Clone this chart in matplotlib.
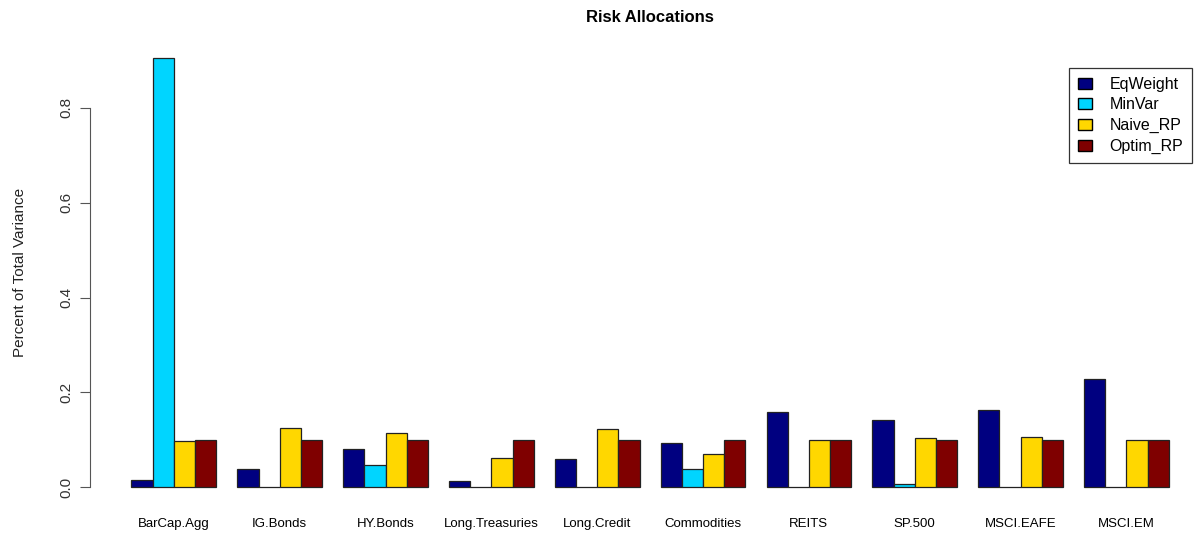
import matplotlib.pyplot as plt
import numpy as np
from matplotlib.patches import Patch

plt.rcParams['font.family'] = ['Liberation Sans', 'DejaVu Sans']

assets = ['BarCap.Agg', 'IG.Bonds', 'HY.Bonds', 'Long.Treasuries', 'Long.Credit',
          'Commodities', 'REITS', 'SP.500', 'MSCI.EAFE', 'MSCI.EM']
eq_weight = [0.016, 0.038, 0.081, 0.013, 0.059, 0.093, 0.159, 0.141, 0.164, 0.228]
min_var = [0.905, 0.0, 0.047, 0.0, 0.0, 0.038, 0.0, 0.008, 0.0, 0.0]
naive_rp = [0.097, 0.124, 0.114, 0.061, 0.123, 0.070, 0.100, 0.104, 0.106, 0.100]
optim_rp = [0.100, 0.100, 0.100, 0.100, 0.100, 0.100, 0.100, 0.100, 0.100, 0.100]

series = {'EqWeight': eq_weight, 'MinVar': min_var,
          'Naive_RP': naive_rp, 'Optim_RP': optim_rp}
colors = ['#000080', '#00D5FF', '#FFD700', '#7F0000']

fig = plt.figure(figsize=(12.01, 5.38), dpi=100)
W, H = 1201, 538
ax = fig.add_axes([90 / W, 1 - 504.5 / H, (W - 90) / W, (504.5 - 40.8) / H])

# R-style beside barplot: each group of 4 unit-wide bars, one unit gap before it
n = len(assets)
group_start = np.arange(n) * 5 + 1
for i, (name, vals) in enumerate(series.items()):
    ax.bar(group_start + i, vals, width=1, align='edge', color=colors[i],
           edgecolor='#222222', linewidth=0.9)

ax.set_xlim(-0.96, -0.96 + (W - 90) / 21.17)
ax.set_ylim(-0.0362, 0.941)

for s in ['top', 'right', 'bottom']:
    ax.spines[s].set_visible(False)
ax.spines['left'].set_bounds(0, 0.8)
ax.spines['left'].set_color('#555555')

ax.set_yticks([0, 0.2, 0.4, 0.6, 0.8])
ax.set_yticklabels(['0.0', '0.2', '0.4', '0.6', '0.8'], rotation=90, va='center',
                   fontsize=11, color='#333333')
ax.tick_params(axis='y', length=7, color='#555555', pad=5)

ax.set_xticks(group_start + 2)
ax.set_xticklabels(assets, fontsize=9.5)
ax.tick_params(axis='x', length=0, pad=10)

ax.set_ylabel('Percent of Total Variance', fontsize=11, color='#222222', labelpad=23)

fig.text(650 / W, 1 - 17 / H, 'Risk Allocations', ha='center', va='center',
         fontsize=12, fontweight='bold')

handles = [Patch(facecolor=c, edgecolor='black', label=k) for k, c in zip(series, colors)]
leg = ax.legend(handles=handles, loc='upper left',
                bbox_to_anchor=((1069 - 90) / (W - 90), 1 - (68 - 40.8) / (504.5 - 40.8)),
                fontsize=11.5, frameon=True, fancybox=False, handlelength=0.9,
                handleheight=0.7, handletextpad=1.1, borderpad=0.55,
                labelspacing=0.35, borderaxespad=0)
leg.get_frame().set_edgecolor('black')
leg.get_frame().set_linewidth(0.9)

fig.savefig('out.png', dpi=100)
